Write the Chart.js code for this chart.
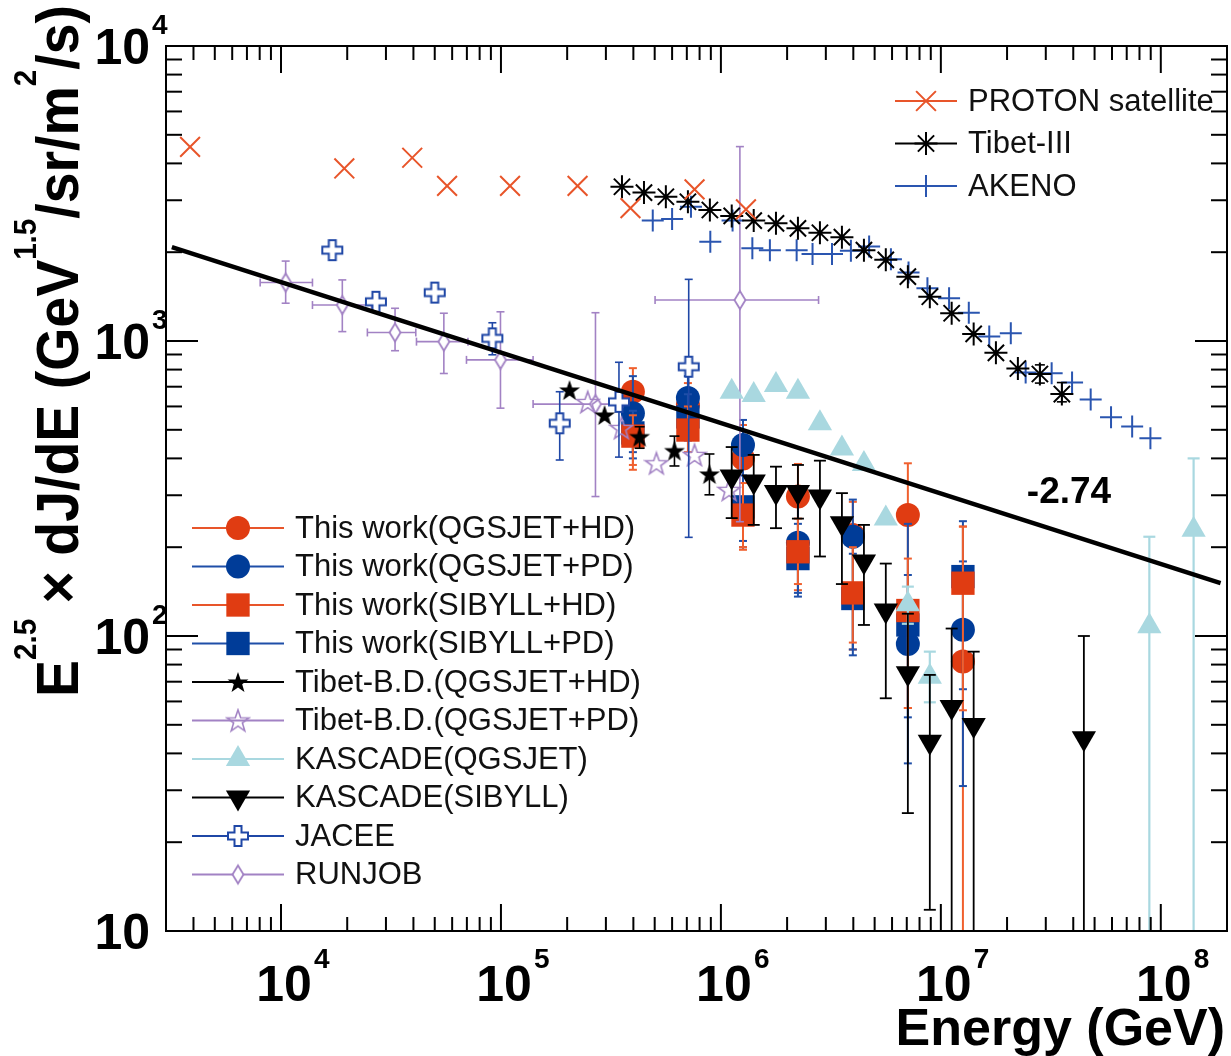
<!DOCTYPE html>
<html>
<head>
<meta charset="utf-8">
<script src="https://cdn.jsdelivr.net/npm/chart.js"></script>
<style>
  body { margin: 0; background: #fff; }
  #wrap { width: 1231px; height: 1056px; }
</style>
</head>
<body>
<div id="wrap"><canvas id="spectrum" width="1231" height="1056"></canvas></div>
<script>
// Axis ranges and tick labels
const xMin = 3e3, xMax = 2e8;
const yMin = 10, yMax = 1e4;
const xTickExps = [4, 5, 6, 7, 8];
const yTickValues = [10, 100, 1000, 10000];
const yTickLabels = [["10", ""], ["10", "2"], ["10", "3"], ["10", "4"]];

// Fitted power law, index -2.74
const fitE = [3190, 1.87e8];
const fitV = [2080, 151];

// PROTON satellite
const protonE = [3.86e3, 1.94e4, 3.95e4, 5.69e4, 1.10e5, 2.23e5, 3.88e5, 7.59e5, 1.30e6];
const protonV = [4550, 3845, 4180, 3357, 3357, 3357, 2820, 3266, 2793];

// Tibet-III
const tibet3E = [3.55e5, 4.47e5, 5.62e5, 7.08e5, 8.91e5, 1.12e6, 1.41e6, 1.78e6, 2.24e6, 2.82e6, 3.55e6,
  4.47e6, 5.62e6, 7.08e6, 8.91e6, 1.12e7, 1.41e7, 1.78e7, 2.24e7, 2.82e7, 3.55e7];
const tibet3V = [3334, 3184, 3083, 2965, 2780, 2655, 2559, 2506, 2410, 2328, 2249,
  2032, 1884, 1652, 1413, 1242, 1057, 912, 807, 773, 661];
const tibet3Lo = [null, null, null, null, null, null, null, null, null, null, null,
  null, null, null, null, null, null, null, null, 720, 622];
const tibet3Hi = [null, null, null, null, null, null, null, null, null, null, null,
  null, null, null, null, null, null, null, null, 830, 723];

// AKENO
const akenoE = [4.90e5, 6.00e5, 7.31e5, 8.95e5, 1.13e6, 1.39e6, 1.67e6, 2.21e6, 2.61e6, 3.20e6, 3.90e6, 4.72e6, 5.93e6,
  7.13e6, 8.69e6, 1.09e7, 1.34e7, 1.66e7, 2.08e7, 2.43e7, 3.19e7, 3.95e7, 4.80e7, 5.94e7, 7.41e7, 8.97e7];
const akenoV = [2559, 2594, 2851, 2168, 2559, 2061, 2032, 2032, 1972, 1972, 2023, 2089, 1892,
  1706, 1510, 1396, 1247, 1035, 1062, 782, 778, 723, 634, 551, 513, 468];

// This work
const thisWorkE = [3.98e5, 7.08e5, 1.26e6, 2.24e6, 3.98e6, 7.08e6, 1.26e7];
const qgsHdV = [673, 607, 400, 297, 220, 257, 82];
const qgsHdLo = [366, 520, 196, 143, 90, 57, 1];
const qgsHdHi = [809, 720, 519, 383, 285, 385, 235];
const qgsPdV = [569, 641, 444, 207, 217, 94, 105];
const qgsPdLo = [420, 540, 200, 136, 86, 37, 31];
const qgsPdHi = [760, 760, 540, 300, 290, 240, 245];
const sibHdV = [476, 499, 257, 193, 140, 122, 151];
const sibHdLo = [380, 420, 200, 150, 95, 57, 56];
const sibHdHi = [560, 600, 330, 250, 200, 183, 235];
const sibPdV = [488, 553, 274, 183, 134, 109, 159];
const sibPdLo = [400, 460, 210, 140, 90, 53, 66];
const sibPdHi = [580, 660, 350, 240, 190, 161, 179];

// Tibet-B.D.
const tibetHdE = [2.05e5, 2.96e5, 4.27e5, 6.15e5, 8.87e5];
const tibetHdV = [682, 561, 474, 425, 354];
const tibetHdLo = [null, null, 433, 377, 301];
const tibetHdHi = [null, null, 512, 476, 414];
const tibetPdE = [2.48e5, 3.53e5, 5.09e5, 7.59e5, 1.09e6];
const tibetPdV = [621, 507, 385, 411, 313];

// KASCADE
const kascadeQE = [1.12e6, 1.41e6, 1.78e6, 2.24e6, 2.82e6, 3.55e6, 4.47e6, 5.62e6, 7.08e6, 8.91e6, 8.87e7, 1.41e8];
const kascadeQV = [673, 656, 709, 673, 526, 432, 383, 250, 128, 72.8, 108, 229];
const kascadeQLo = [null, null, null, null, null, null, null, null, 110, 59.6, 1, 1];
const kascadeQHi = [null, null, null, null, null, null, null, null, 147, 88.5, 217, 400];
const kascadeSE = [1.12e6, 1.41e6, 1.78e6, 2.24e6, 2.82e6, 3.55e6, 4.47e6, 5.62e6, 7.08e6, 8.91e6, 1.12e7, 1.41e7, 4.47e7];
const kascadeSV = [347, 334, 308, 308, 297, 241, 179, 122, 74.7, 43.8, 57.5, 49.9, 45.0];
const kascadeSLo = [251, 238, 232, 250, 186, 150, 109, 61.5, 25.1, 11.8, 1, 1, 1];
const kascadeSHi = [437, 411, 375, 380, 393, 305, 238, 176, 119, 73.8, 106, 88.5, 100];

// JACEE
const jaceeE = [1.71e4, 2.70e4, 5.00e4, 9.14e4, 1.85e5, 3.44e5, 7.14e5];
const jaceeV = [2032, 1358, 1459, 1021, 526, 622, 818];
const jaceeLo = [null, null, null, 898, 395, 404, 216];
const jaceeHi = [null, null, null, 1153, 673, 847, 1618];

// RUNJOB
const runjobE = [1.05e4, 1.90e4, 3.30e4, 5.50e4, 9.95e4, 2.69e5, 1.22e6];
const runjobV = [1578, 1324, 1069, 995, 863, 611, 1377];
const runjobELo = [8.04e3, 1.39e4, 2.47e4, 4.13e4, 6.97e4, 1.40e5, 5.02e5];
const runjobEHi = [1.39e4, 2.58e4, 4.10e4, 7.08e4, 1.40e5, 3.57e5, 2.78e6];
const runjobLo = [1343, 1076, 927, 776, 592, 297, 244];
const runjobHi = [1866, 1611, 1291, 1242, 1256, 1247, 4560];

const RED = "#e03c12", BLUE = "#003c98", PURPLE = "#a282c4", LIGHT = "#a9d8e0";
const FONT = "'Liberation Sans', Arial, sans-serif";

// custom marker shapes
function makeMarker(w, h, draw) {
  const c = document.createElement("canvas");
  c.width = w; c.height = h;
  draw(c.getContext("2d"), w / 2, h / 2);
  return c;
}
function starPath(g, cx, cy, R, r) {
  g.beginPath();
  for (let i = 0; i < 10; i++) {
    const a = -Math.PI / 2 + i * Math.PI / 5;
    const rad = i % 2 ? r : R;
    g.lineTo(cx + rad * Math.cos(a), cy + rad * Math.sin(a));
  }
  g.closePath();
}
const filledStar = makeMarker(24, 24, (g, cx, cy) => {
  starPath(g, cx, cy + 1, 11, 4.4);
  g.fillStyle = "#000"; g.fill();
});
const openStar = makeMarker(26, 26, (g, cx, cy) => {
  starPath(g, cx, cy + 1, 11.5, 4.6);
  g.strokeStyle = PURPLE; g.lineWidth = 1.6; g.stroke();
});
const openCross = makeMarker(24, 24, (g, c) => {
  const a = 3.5, b = 10;
  const pts = [[-a, -b], [a, -b], [a, -a], [b, -a], [b, a], [a, a], [a, b], [-a, b], [-a, a], [-b, a], [-b, -a], [-a, -a]];
  g.beginPath();
  pts.forEach(([dx, dy]) => g.lineTo(c + dx, c + dy));
  g.closePath();
  g.fillStyle = "#fff"; g.fill();
  g.strokeStyle = "#1f47a6"; g.lineWidth = 2; g.stroke();
});
const openDiamond = makeMarker(16, 24, (g, cx, cy) => {
  g.beginPath();
  g.moveTo(cx, cy - 9); g.lineTo(cx + 5.5, cy); g.lineTo(cx, cy + 9); g.lineTo(cx - 5.5, cy); g.closePath();
  g.fillStyle = "#fff"; g.fill();
  g.strokeStyle = PURPLE; g.lineWidth = 1.8; g.stroke();
});

const pts = (xs, ys) => xs.map((x, i) => ({ x, y: ys[i] }));

const datasets = [
  { label: "fit", data: pts(fitE, fitV), showLine: true, borderColor: "#000", borderWidth: 4.5,
    pointRadius: 0, order: 0 },
  { label: "PROTON satellite", data: pts(protonE, protonV), pointStyle: "crossRot", pointRadius: 14,
    borderColor: "#e8552a", backgroundColor: "#e8552a", pointBorderWidth: 2, order: 2 },
  { label: "Tibet-III", data: pts(tibet3E, tibet3V), pointStyle: "star", pointRadius: 11.5,
    borderColor: "#000", backgroundColor: "#000", pointBorderWidth: 2, order: 2,
    yLo: tibet3Lo, yHi: tibet3Hi, errColor: "#000", cap: 5 },
  { label: "AKENO", data: pts(akenoE, akenoV), pointStyle: "cross", pointRadius: 11,
    borderColor: "#2a55b0", backgroundColor: "#2a55b0", pointBorderWidth: 2, order: 3 },
  { label: "This work(QGSJET+HD)", data: pts(thisWorkE, qgsHdV), pointStyle: "circle", pointRadius: 12,
    borderColor: RED, backgroundColor: RED, pointBorderWidth: 0, order: 10,
    yLo: qgsHdLo, yHi: qgsHdHi, errColor: "#f0602e", errWidth: 2, cap: 4 },
  { label: "This work(QGSJET+PD)", data: pts(thisWorkE, qgsPdV), pointStyle: "circle", pointRadius: 12,
    borderColor: BLUE, backgroundColor: BLUE, pointBorderWidth: 0, order: 9,
    yLo: qgsPdLo, yHi: qgsPdHi, errColor: "#1f4fa8", errWidth: 2, cap: 4 },
  { label: "This work(SIBYLL+HD)", data: pts(thisWorkE, sibHdV), pointStyle: "rect", pointRadius: 16.5,
    borderColor: RED, backgroundColor: RED, pointBorderWidth: 0, order: 7,
    yLo: sibHdLo, yHi: sibHdHi, errColor: "#f0602e", errWidth: 2, cap: 4 },
  { label: "This work(SIBYLL+PD)", data: pts(thisWorkE, sibPdV), pointStyle: "rect", pointRadius: 16.5,
    borderColor: BLUE, backgroundColor: BLUE, pointBorderWidth: 0, order: 8,
    yLo: sibPdLo, yHi: sibPdHi, errColor: "#1f4fa8", errWidth: 2, cap: 4 },
  { label: "Tibet-B.D.(QGSJET+HD)", data: pts(tibetHdE, tibetHdV), pointStyle: filledStar, pointRadius: 10,
    borderColor: "#000", backgroundColor: "#000", order: 4,
    yLo: tibetHdLo, yHi: tibetHdHi, errColor: "#000", cap: 5 },
  { label: "Tibet-B.D.(QGSJET+PD)", data: pts(tibetPdE, tibetPdV), pointStyle: openStar, pointRadius: 10,
    borderColor: PURPLE, backgroundColor: PURPLE, order: 6 },
  { label: "KASCADE(QGSJET)", data: pts(kascadeQE, kascadeQV), pointStyle: "triangle", pointRadius: 14,
    borderColor: LIGHT, backgroundColor: LIGHT, pointBorderWidth: 0, order: 3,
    yLo: kascadeQLo, yHi: kascadeQHi, errColor: LIGHT, errWidth: 2.2, cap: 6 },
  { label: "KASCADE(SIBYLL)", data: pts(kascadeSE, kascadeSV), pointStyle: "triangle", pointRotation: 180,
    pointRadius: 14, borderColor: "#000", backgroundColor: "#000", pointBorderWidth: 0, order: 1,
    yLo: kascadeSLo, yHi: kascadeSHi, errColor: "#000", errWidth: 1.8, cap: 6 },
  { label: "JACEE", data: pts(jaceeE, jaceeV), pointStyle: openCross, pointRadius: 10,
    borderColor: "#1f47a6", backgroundColor: "#1f47a6", order: 5,
    yLo: jaceeLo, yHi: jaceeHi, errColor: "#1f47a6", cap: 4 },
  { label: "RUNJOB", data: pts(runjobE, runjobV), pointStyle: openDiamond, pointRadius: 9,
    borderColor: PURPLE, backgroundColor: PURPLE, order: 6,
    yLo: runjobLo, yHi: runjobHi, xLo: runjobELo, xHi: runjobEHi, errColor: PURPLE, cap: 4 }
];

function seg(ctx, x1, y1, x2, y2) {
  ctx.beginPath(); ctx.moveTo(x1, y1); ctx.lineTo(x2, y2); ctx.stroke();
}

// error bars drawn under each dataset's own markers
const errorBars = {
  id: "errorBars",
  beforeDatasetDraw(chart, args) {
    const ds = chart.data.datasets[args.index];
    if (!ds.yLo && !ds.xLo) return;
    const { ctx, chartArea: a, scales: { x, y } } = chart;
    ctx.save();
    ctx.beginPath();
    ctx.rect(a.left, a.top, a.right - a.left, a.bottom - a.top);
    ctx.clip();
    ctx.strokeStyle = ds.errColor;
    ctx.lineWidth = ds.errWidth || 1.6;
    const cap = ds.cap || 4;
    ds.data.forEach((p, i) => {
      const px = x.getPixelForValue(p.x), py = y.getPixelForValue(p.y);
      if (ds.yLo && ds.yLo[i] != null) {
        const y1 = y.getPixelForValue(ds.yLo[i]), y2 = y.getPixelForValue(ds.yHi[i]);
        seg(ctx, px, y1, px, y2);
        seg(ctx, px - cap, y1, px + cap, y1);
        seg(ctx, px - cap, y2, px + cap, y2);
      }
      if (ds.xLo && ds.xLo[i] != null) {
        const x1 = x.getPixelForValue(ds.xLo[i]), x2 = x.getPixelForValue(ds.xHi[i]);
        seg(ctx, x1, py, x2, py);
        seg(ctx, x1, py - cap, x1, py + cap);
        seg(ctx, x2, py - cap, x2, py + cap);
      }
    });
    ctx.restore();
  }
};

function drawMarker(ctx, ds, cx, cy) {
  ctx.save();
  ctx.fillStyle = ds.backgroundColor;
  ctx.strokeStyle = ds.borderColor;
  ctx.lineWidth = ds.pointBorderWidth != null ? ds.pointBorderWidth : 1;
  Chart.helpers.drawPoint(ctx, {
    pointStyle: ds.pointStyle, radius: ds.pointRadius, rotation: ds.pointRotation || 0,
    borderWidth: ds.pointBorderWidth != null ? ds.pointBorderWidth : 1
  }, cx, cy);
  ctx.restore();
}

function drawLegend(ctx, labels, x0, y0, step, lineLen, lineColors) {
  labels.forEach((lab, i) => {
    const ds = datasets.find(d => d.label === lab);
    const cy = y0 + i * step;
    ctx.strokeStyle = lineColors[i];
    ctx.lineWidth = 2;
    seg(ctx, x0, cy, x0 + lineLen, cy);
    drawMarker(ctx, ds, x0 + lineLen / 2, cy);
    ctx.fillStyle = "#111";
    ctx.font = "31px " + FONT;
    ctx.textAlign = "left";
    ctx.textBaseline = "middle";
    ctx.fillText(lab, x0 + lineLen + 11, cy + 1);
  });
}

const decorations = {
  id: "decorations",
  afterDraw(chart) {
    const { ctx, chartArea: a, scales: { x, y } } = chart;
    ctx.save();
    ctx.strokeStyle = "#000";
    ctx.lineWidth = 2;
    ctx.strokeRect(a.left, a.top, a.right - a.left, a.bottom - a.top);

    // inward ticks on all four sides
    for (let p = 3; p <= 8; p++) {
      for (let m = 1; m <= 9; m++) {
        const v = m * Math.pow(10, p);
        if (v <= xMin || v >= xMax) continue;
        const px = x.getPixelForValue(v);
        const len = m === 1 ? 27 : 14;
        seg(ctx, px, a.bottom, px, a.bottom - len);
        seg(ctx, px, a.top, px, a.top + len);
      }
    }
    for (let p = 1; p <= 4; p++) {
      for (let m = 1; m <= 9; m++) {
        const v = m * Math.pow(10, p);
        if (v <= yMin || v >= yMax) continue;
        const py = y.getPixelForValue(v);
        const len = m === 1 ? 32 : 16;
        seg(ctx, a.left, py, a.left + len, py);
        seg(ctx, a.right, py, a.right - len, py);
      }
    }

    // tick labels
    ctx.fillStyle = "#000";
    ctx.textBaseline = "alphabetic";
    xTickExps.forEach(e => {
      const px = x.getPixelForValue(Math.pow(10, e));
      ctx.font = "bold 50px " + FONT;
      ctx.textAlign = "center";
      ctx.fillText("10", px + 3, 1001);
      ctx.font = "bold 28px " + FONT;
      ctx.textAlign = "left";
      ctx.fillText(String(e), px + 33, 968);
    });
    yTickValues.forEach((v, i) => {
      const py = y.getPixelForValue(v);
      const [base, sup] = yTickLabels[i];
      ctx.font = "bold 50px " + FONT;
      ctx.textAlign = "right";
      ctx.fillText(base, 150, py + 18);
      if (sup) {
        ctx.font = "bold 28px " + FONT;
        ctx.textAlign = "left";
        ctx.fillText(sup, 152, py - 12);
      }
    });

    // axis titles
    ctx.font = "bold 52px " + FONT;
    ctx.textAlign = "right";
    ctx.fillText("Energy (GeV)", 1225, 1045);

    const parts = [["E", 0], ["2.5", 1], [" \u00d7 dJ/dE (GeV", 0], ["1.5", 1], ["/sr/m", 0], ["2", 1], ["/s)", 0]];
    const big = "bold 60px " + FONT, small = "bold 32px " + FONT;
    let total = 0;
    const widths = parts.map(([t, s]) => {
      ctx.font = s ? small : big;
      const w = ctx.measureText(t).width;
      total += w;
      return w;
    });
    ctx.save();
    ctx.translate(78, 697);
    ctx.rotate(-Math.PI / 2);
    ctx.scale(692 / total, 1);
    ctx.textAlign = "left";
    let cx = 0;
    parts.forEach(([t, s], i) => {
      ctx.font = s ? small : big;
      ctx.fillText(t, cx, s ? -42 : 0);
      cx += widths[i];
    });
    ctx.restore();

    // slope label
    ctx.font = "bold 37px " + FONT;
    ctx.textAlign = "center";
    ctx.fillText("-2.74", 1069, 503);

    // legends
    drawLegend(ctx, ["PROTON satellite", "Tibet-III", "AKENO"], 895, 101, 42.5, 62,
      ["#e8552a", "#000", "#2a55b0"]);
    drawLegend(ctx, ["This work(QGSJET+HD)", "This work(QGSJET+PD)", "This work(SIBYLL+HD)",
      "This work(SIBYLL+PD)", "Tibet-B.D.(QGSJET+HD)", "Tibet-B.D.(QGSJET+PD)", "KASCADE(QGSJET)",
      "KASCADE(SIBYLL)", "JACEE", "RUNJOB"], 192, 528, 38.5, 92,
      ["#e8552a", "#1f4fa8", "#e8552a", "#1f4fa8", "#000", PURPLE, LIGHT, "#000", "#1f47a6", PURPLE]);
    ctx.restore();
  }
};

new Chart(document.getElementById("spectrum"), {
  type: "scatter",
  data: { datasets },
  options: {
    responsive: false,
    animation: false,
    devicePixelRatio: 1,
    layout: { autoPadding: false, padding: { left: 166, top: 46, right: 4, bottom: 125 } },
    plugins: { legend: { display: false }, tooltip: { enabled: false } },
    scales: {
      x: { type: "logarithmic", min: xMin, max: xMax, display: false },
      y: { type: "logarithmic", min: yMin, max: yMax, display: false }
    }
  },
  plugins: [errorBars, decorations]
});
</script>
</body>
</html>
